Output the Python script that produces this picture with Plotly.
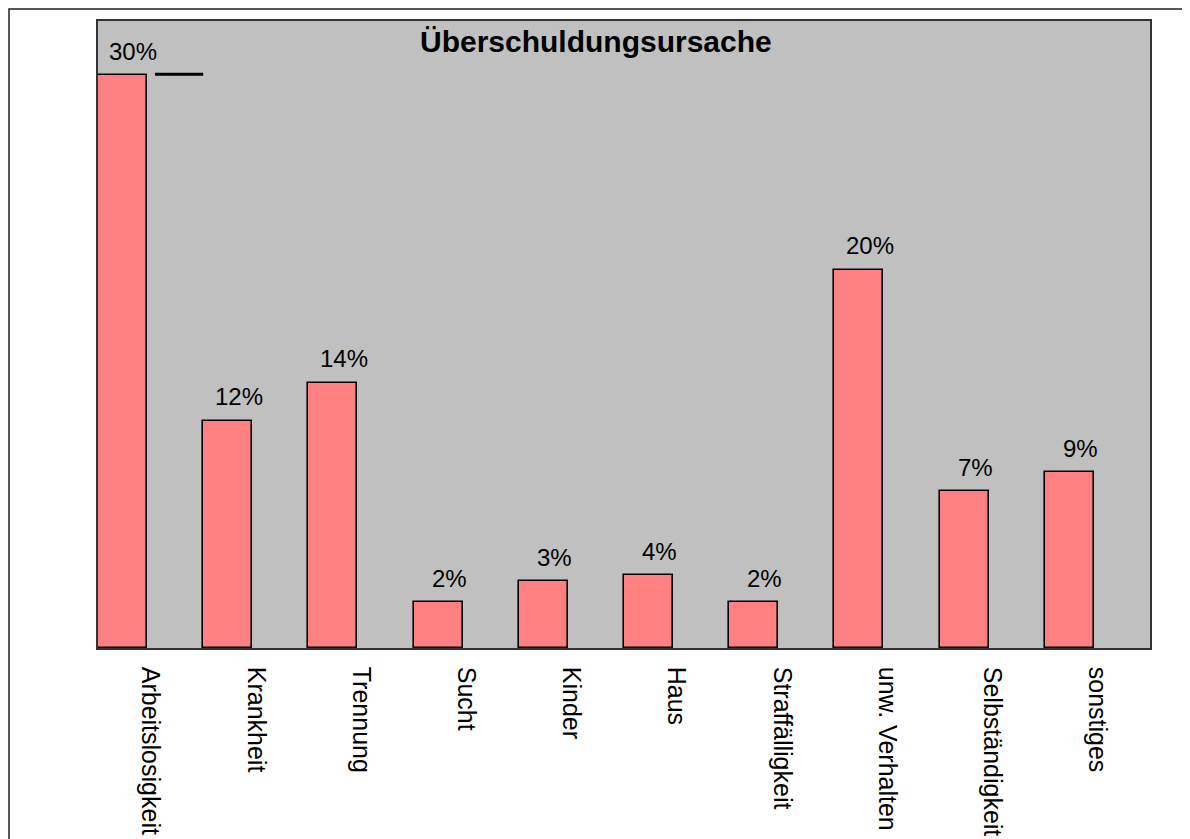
import plotly.graph_objects as go

# -----------------------------
# Data
# -----------------------------
categories = [
    "Arbeitslosigkeit", "Krankheit", "Trennung", "Sucht", "Kinder",
    "Haus", "Straffälligkeit", "unw. Verhalten", "Selbständigkeit", "sonstiges",
]
values = [30.0, 11.9, 13.9, 2.4, 3.5, 3.8, 2.4, 19.8, 8.2, 9.2]
value_labels = ["30%", "12%", "14%", "2%", "3%", "4%", "2%", "20%", "7%", "9%"]

positions = list(range(len(categories)))
BAR_WIDTH = 0.465
FONT = "Liberation Sans, Arial, Helvetica, sans-serif"

fig = go.Figure()

fig.add_trace(go.Bar(
    x=positions,
    y=values,
    offset=-0.5,
    width=BAR_WIDTH,
    marker=dict(color="#FF8080", line=dict(color="black", width=1.6)),
    showlegend=False,
    hoverinfo="skip",
))

# value labels above bars
for pos, val, lab in zip(positions, values, value_labels):
    fig.add_annotation(
        x=pos - 0.5 + BAR_WIDTH / 2,
        y=val,
        text=lab,
        showarrow=False,
        xshift=11,
        yshift=24,
        yanchor="middle",
        font=dict(family=FONT, size=24, color="black"),
    )

# title inside the plot area
fig.add_annotation(
    x=0.473, y=0.968, xref="paper", yref="paper",
    text="<b>Überschuldungsursache</b>",
    showarrow=False,
    yanchor="middle",
    font=dict(family=FONT, size=30, color="black"),
)

# small dash next to the first label (as in the original)
fig.add_shape(
    type="line", xref="paper", yref="paper",
    x0=0.0542, x1=0.1, y0=0.915, y1=0.915,
    line=dict(color="black", width=3),
)

# outer frame
fig.add_shape(
    type="rect", xref="paper", yref="paper",
    x0=-0.0846, x1=1.04, y0=-0.35, y1=1.019,
    line=dict(color="#222222", width=1.5),
    fillcolor="rgba(0,0,0,0)",
    layer="below",
)

fig.update_layout(
    width=1182,
    height=831,
    margin=dict(l=90, r=40, t=13, b=191, autoexpand=False),
    paper_bgcolor="white",
    plot_bgcolor="#C0C0C0",
    font=dict(family=FONT, size=24, color="black"),
    bargap=0,
)

fig.update_xaxes(
    range=[-0.5, len(categories) - 0.5],
    tickvals=positions,
    ticktext=categories,
    tickangle=90,
    ticks="",
    ticklabelstandoff=12,
    automargin=False,
    showgrid=False,
    zeroline=False,
    showline=True,
    linecolor="#333333",
    linewidth=1.5,
    mirror=True,
    tickfont=dict(family=FONT, size=25, color="black"),
)
fig.update_yaxes(
    range=[0, 32.83],
    showticklabels=False,
    ticks="",
    automargin=False,
    showgrid=False,
    zeroline=False,
    showline=True,
    linecolor="#333333",
    linewidth=1.5,
    mirror=True,
)

fig.write_html("out.html")
